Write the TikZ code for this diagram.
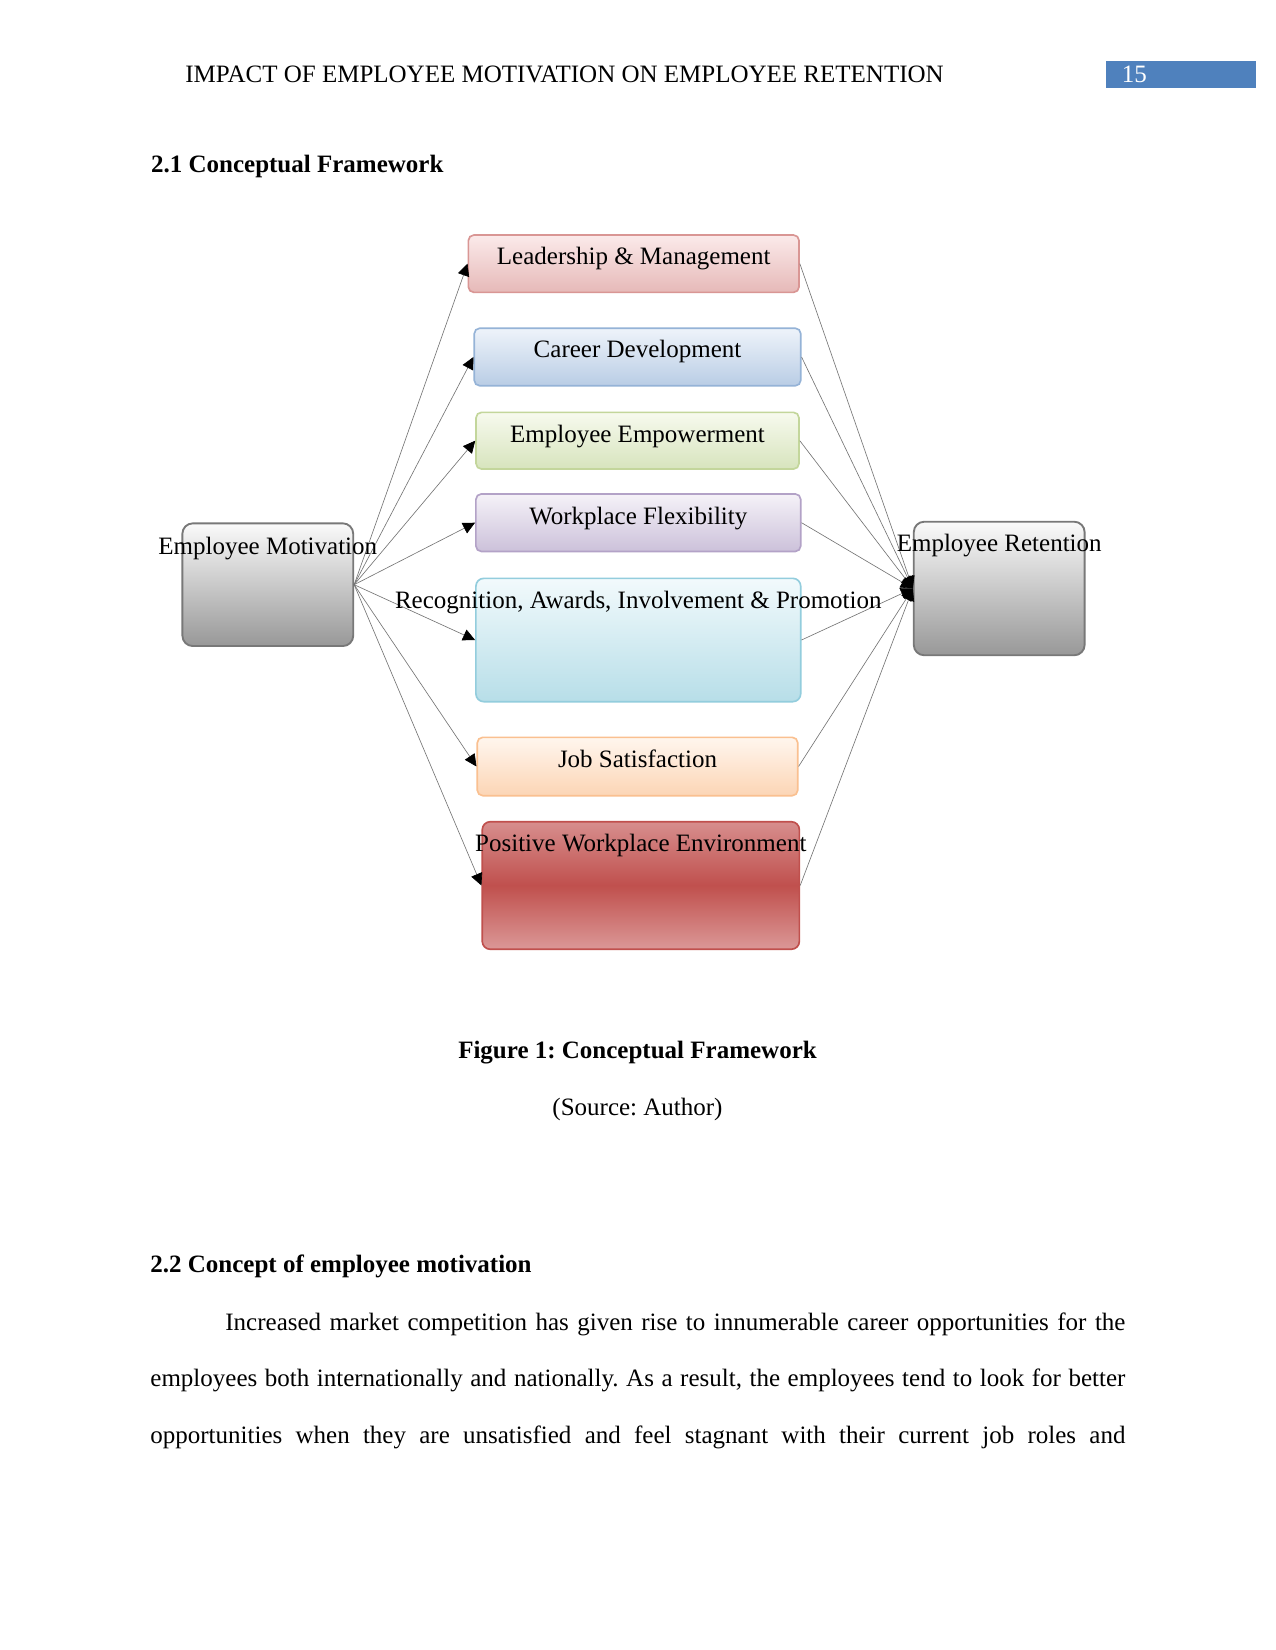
\documentclass[tikz,border=0pt]{standalone}
\usepackage{fontspec}
\setmainfont{Liberation Serif}
\usepackage{xcolor}
\usetikzlibrary{arrows.meta}
\frenchspacing
\definecolor{hdrblue}{RGB}{79,129,189}
\definecolor{ldrline}{RGB}{217,150,148}
\definecolor{ldrtop}{RGB}{251,234,234}
\definecolor{ldrbot}{RGB}{230,185,184}
\definecolor{carline}{RGB}{149,179,215}
\definecolor{cartop}{RGB}{238,243,250}
\definecolor{carbot}{RGB}{185,205,229}
\definecolor{empline}{RGB}{195,214,155}
\definecolor{emptop}{RGB}{247,250,238}
\definecolor{empbot}{RGB}{215,228,189}
\definecolor{wfxline}{RGB}{179,162,199}
\definecolor{wfxtop}{RGB}{245,242,248}
\definecolor{wfxbot}{RGB}{204,193,218}
\definecolor{recline}{RGB}{147,205,221}
\definecolor{rectop}{RGB}{242,250,252}
\definecolor{recbot}{RGB}{183,222,232}
\definecolor{jobline}{RGB}{250,192,144}
\definecolor{jobtop}{RGB}{255,246,238}
\definecolor{jobbot}{RGB}{252,213,181}
\definecolor{pweline}{RGB}{192,80,77}
\definecolor{pwetop}{RGB}{215,142,141}
\definecolor{pwemid}{RGB}{192,80,77}
\definecolor{pwebot}{RGB}{219,152,151}
\definecolor{endline}{RGB}{120,120,120}
\definecolor{endtop}{RGB}{250,250,250}
\definecolor{endbot}{RGB}{152,152,152}

\begin{document}
\begin{tikzpicture}[x=0.48pt,y=-0.48pt,
  font=\fontsize{12}{14.4}\selectfont,
  txt/.style={inner sep=0pt,anchor=base},
  lefttxt/.style={inner sep=0pt,anchor=base west},
  factor/.style={rectangle,rounded corners=2.6pt,line width=0.8pt,inner sep=0pt},
  endbox/.style={rectangle,rounded corners=5pt,line width=0.9pt,inner sep=0pt,
    draw=endline,top color=endtop,bottom color=endbot,
    minimum width=82pt},
  link/.style={draw=black!55,line width=0.3pt,
    -{Triangle[length=5.8pt,width=5.6pt,color=black]}}]
  \fill[white] (0,0) rectangle (1275,1650);
  \useasboundingbox (0,0) rectangle (1275,1650);

  % running head
  \node[lefttxt] (head) at (185,82.7) {IMPACT OF EMPLOYEE MOTIVATION ON EMPLOYEE RETENTION};
  \fill[hdrblue] (1106,61) rectangle (1256,88);
  \node[lefttxt,text=white] (pageno) at (1121.5,82.7) {15};
  \node[lefttxt,font=\fontsize{12}{14.4}\selectfont\bfseries] (sec1) at (150.7,172.7) {2.1 Conceptual Framework};

  % boxes
  \node[endbox,minimum height=58.9pt] (mot) at (267.8,584.7) {};
  \node[endbox,minimum height=64.1pt] (ret) at (999.2,588.5) {};
  \node[factor,draw=ldrline,top color=ldrtop,bottom color=ldrbot,
    minimum width=158.7pt,minimum height=27.5pt] (ldr) at (633.7,263.7) {};
  \node[factor,draw=carline,top color=cartop,bottom color=carbot,
    minimum width=156.7pt,minimum height=27.6pt] (car) at (637.5,357) {};
  \node[factor,draw=empline,top color=emptop,bottom color=empbot,
    minimum width=155pt,minimum height=27.2pt] (emp) at (637.5,440.7) {};
  \node[factor,draw=wfxline,top color=wfxtop,bottom color=wfxbot,
    minimum width=155.9pt,minimum height=27.6pt] (wfx) at (638.3,522.7) {};
  \node[factor,draw=recline,top color=rectop,bottom color=recbot,rounded corners=3.8pt,
    minimum width=155.9pt,minimum height=59.2pt] (rec) at (638.3,640) {};
  \node[factor,draw=jobline,top color=jobtop,bottom color=jobbot,
    minimum width=153.8pt,minimum height=28pt] (job) at (637.5,766.5) {};
  \node[factor,draw=pweline,top color=pwetop,bottom color=pwebot,middle color=pwemid,
    rounded corners=3.8pt,minimum width=152.2pt,minimum height=61.2pt] (pwe) at (640.8,885.5) {};

  % connectors
  \foreach \b in {ldr,car,emp,wfx,rec,job,pwe} {
    \draw[link] (mot.east) -- (\b.west);
    \draw[link] (\b.east) -- (ret.west);
  }

  % labels
  \node[txt] (motT) at (267.8,554) {Employee Motivation};
  \node[txt] (retT) at (999.2,551.7) {Employee Retention};
  \node[txt] (ldrT) at (633.7,265) {Leadership \& Management};
  \node[txt] (carT) at (637.5,358) {Career Development};
  \node[txt] (empT) at (637.5,442.3) {Employee Empowerment};
  \node[txt] (wfxT) at (638.3,524) {Workplace Flexibility};
  \node[txt] (recT) at (638.3,608.3) {Recognition, Awards, Involvement \& Promotion};
  \node[txt] (jobT) at (637.5,767.5) {Job Satisfaction};
  \node[txt] (pweT) at (640.8,851.7) {Positive Workplace Environment};

  % caption and text below
  \node[txt,font=\fontsize{12}{14.4}\selectfont\bfseries] (cap) at (637.5,1058.3) {Figure 1: Conceptual Framework};
  \node[txt] (src) at (637.5,1115.5) {(Source: Author)};
  \node[lefttxt,font=\fontsize{12}{14.4}\selectfont\bfseries] (sec2) at (150,1272.3) {2.2 Concept of employee motivation};
  \node[lefttxt] (par1) at (225,1330) {\makebox[432pt][s]{Increased market competition has given rise to innumerable career opportunities for the}};
  \node[lefttxt] (par2) at (150,1386.7) {\makebox[468pt][s]{employees both internationally and nationally. As a result, the employees tend to look for better}};
  \node[lefttxt] (par3) at (150,1443.5) {\makebox[468pt][s]{opportunities when they are unsatisfied and feel stagnant with their current job roles and}};
\end{tikzpicture}
\end{document}
